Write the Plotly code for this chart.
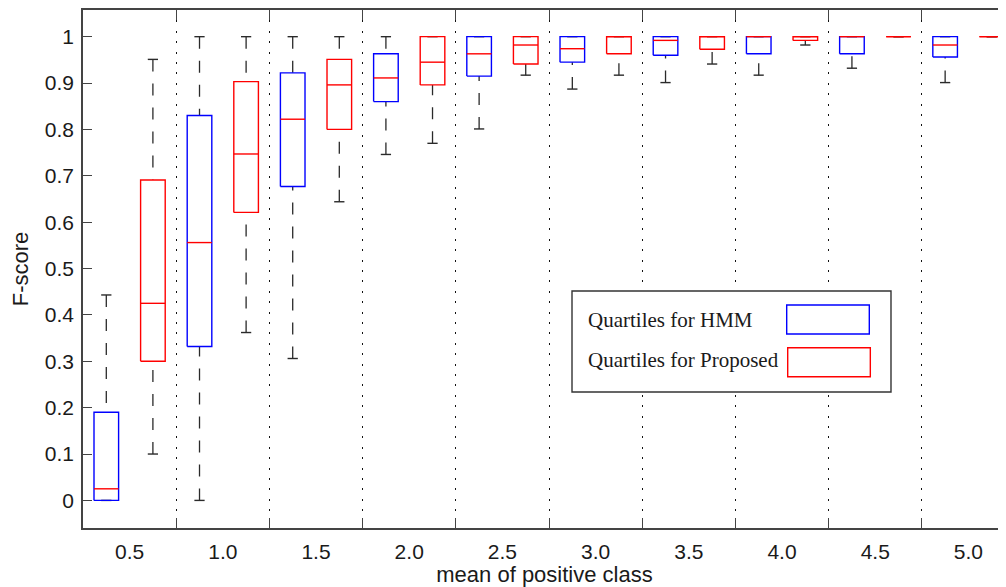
import plotly.graph_objects as go

# ---------------- data ----------------
categories = ["0.5", "1.0", "1.5", "2.0", "2.5", "3.0", "3.5", "4.0", "4.5", "5.0"]

hmm_low = [0.0, 0.0, 0.306, 0.746, 0.801, 0.887, 0.901, 0.917, 0.932, 0.901]
hmm_q1 = [0.0, 0.332, 0.677, 0.860, 0.915, 0.945, 0.960, 0.963, 0.963, 0.956]
hmm_med = [0.025, 0.556, 0.822, 0.911, 0.963, 0.974, 0.992, 1.0, 1.0, 0.982]
hmm_q3 = [0.190, 0.830, 0.922, 0.963, 1.0, 1.0, 1.0, 1.0, 1.0, 1.0]
hmm_high = [0.443, 1.0, 1.0, 1.0, 1.0, 1.0, 1.0, 1.0, 1.0, 1.0]

prop_low = [0.100, 0.362, 0.644, 0.770, 0.917, 0.917, 0.941, 0.982, 1.0, 1.0]
prop_q1 = [0.300, 0.621, 0.800, 0.896, 0.941, 0.963, 0.973, 0.992, 1.0, 1.0]
prop_med = [0.425, 0.747, 0.896, 0.945, 0.982, 1.0, 1.0, 1.0, 1.0, 1.0]
prop_q3 = [0.691, 0.903, 0.951, 1.0, 1.0, 1.0, 1.0, 1.0, 1.0, 1.0]
prop_high = [0.951, 1.0, 1.0, 1.0, 1.0, 1.0, 1.0, 1.0, 1.0, 1.0]

y_ticks = [0.0, 0.1, 0.2, 0.3, 0.4, 0.5, 0.6, 0.7, 0.8, 0.9, 1.0]
y_tick_text = ["0", "0.1", "0.2", "0.3", "0.4", "0.5", "0.6", "0.7", "0.8", "0.9", "1"]

legend_labels = ["Quartiles for HMM", "Quartiles for Proposed"]

# ---------------- style ----------------
BLUE = "rgb(0,0,255)"
RED = "rgb(255,0,0)"
WHISK = "#2a2a2a"
AXC = "#444444"
OFFSET = 0.25
HALF_W = 0.132
CAP_HALF = 0.055
SANS = "Liberation Sans, Arial, sans-serif"
SERIF = "Liberation Serif, DejaVu Serif, serif"
FS_TICK = 21
FS_TITLE = 22

centers = [i + 1 for i in range(len(categories))]
separators = [c + 0.5 for c in centers[:-1]]


def series_geometry(low, q1, med, q3, high, off):
    wx, wy, cx, cy, bx, by, mx, my = [], [], [], [], [], [], [], []
    for c, lo, a, m, b, hi in zip(centers, low, q1, med, q3, high):
        xc = c + off
        if hi > b:
            wx += [xc, xc, None]
            wy += [hi, b, None]
        if lo < a:
            wx += [xc, xc, None]
            wy += [lo, a, None]
        cx += [xc - CAP_HALF, xc + CAP_HALF, None, xc - CAP_HALF, xc + CAP_HALF, None]
        cy += [hi, hi, None, lo, lo, None]
        bx += [xc - HALF_W, xc + HALF_W, xc + HALF_W, xc - HALF_W, xc - HALF_W, None]
        by += [a, a, b, b, a, None]
        mx += [xc - HALF_W, xc + HALF_W, None]
        my += [m, m, None]
    return wx, wy, cx, cy, bx, by, mx, my


fig = go.Figure()

series = [
    (hmm_low, hmm_q1, hmm_med, hmm_q3, hmm_high, -OFFSET, BLUE, legend_labels[0]),
    (prop_low, prop_q1, prop_med, prop_q3, prop_high, OFFSET, RED, legend_labels[1]),
]

for low, q1, med, q3, high, off, col, name in series:
    wx, wy, cx, cy, bx, by, mx, my = series_geometry(low, q1, med, q3, high, off)
    fig.add_trace(go.Scatter(x=wx, y=wy, mode="lines", showlegend=False, hoverinfo="skip",
                             line=dict(color=WHISK, width=1.3, dash="12px,12px")))
    fig.add_trace(go.Scatter(x=cx, y=cy, mode="lines", showlegend=False, hoverinfo="skip",
                             line=dict(color=WHISK, width=1.4)))
    fig.add_trace(go.Scatter(x=bx, y=by, mode="lines", showlegend=False, name=name,
                             line=dict(color=col, width=1.4)))
    fig.add_trace(go.Scatter(x=mx, y=my, mode="lines", showlegend=False, hoverinfo="skip",
                             line=dict(color=RED, width=1.4)))

fig.add_trace(go.Scatter(x=[centers[0]], y=[0], xaxis="x2", yaxis="y2", mode="markers",
                         marker=dict(opacity=0), showlegend=False, hoverinfo="skip"))

# the page body has an 8px default margin, so the figure is 998x579
fig.update_layout(
    width=998, height=579,
    margin=dict(l=75, r=0, t=2, b=59, autoexpand=False),
    paper_bgcolor="white", plot_bgcolor="white",
    font=dict(family=SANS, size=FS_TICK, color="#1a1a1a"),
    xaxis=dict(
        range=[0.5, 10.403], tickvals=separators, showticklabels=False,
        ticks="inside", ticklen=10, tickwidth=1.3, tickcolor=AXC,
        showline=True, linecolor=AXC, linewidth=1.5, mirror="ticks",
        showgrid=True, gridcolor="#111111", gridwidth=1.2, griddash="2px,8.4px",
        zeroline=False, automargin=False,
    ),
    xaxis2=dict(
        overlaying="x", matches="x", anchor="y", side="bottom",
        tickvals=centers, ticktext=categories, ticks="", showline=False,
        showgrid=False, zeroline=False, ticklabelstandoff=9, automargin=False,
        tickfont=dict(family=SANS, size=FS_TICK, color="#1a1a1a"),
        title=dict(text="mean of positive class", standoff=3,
                   font=dict(family=SANS, size=FS_TITLE, color="#1a1a1a")),
    ),
    yaxis=dict(
        range=[-0.0595, 1.0575], tickvals=y_ticks, ticktext=y_tick_text,
        ticks="inside", ticklen=9, tickwidth=1.3, tickcolor=AXC,
        showline=True, linecolor=AXC, linewidth=1.5, mirror=False,
        showgrid=False, zeroline=False, ticklabelstandoff=3, automargin=False,
        tickfont=dict(family=SANS, size=FS_TICK, color="#1a1a1a"),
        title=dict(text="F-score", standoff=10,
                   font=dict(family=SANS, size=FS_TITLE, color="#1a1a1a")),
    ),
    yaxis2=dict(
        overlaying="y", matches="y", anchor="free", position=1, side="right",
        tickvals=y_ticks, showticklabels=False, ticks="inside", ticklen=3,
        tickwidth=1.3, tickcolor=AXC, showline=False, showgrid=False, zeroline=False,
        automargin=False,
    ),
)

# manual legend (boxed, serif text, rectangular swatches)
fig.add_shape(type="rect", xref="paper", yref="paper", x0=0.5298, x1=0.8754, y0=0.2625, y1=0.4575,
              fillcolor="white", line=dict(color="#333333", width=1.4), layer="above")
fig.add_shape(type="rect", xref="paper", yref="paper", x0=0.7624, x1=0.8519, y0=0.3745, y1=0.4305,
              fillcolor="white", line=dict(color=BLUE, width=1.4), layer="above")
fig.add_shape(type="rect", xref="paper", yref="paper", x0=0.7635, x1=0.8530, y0=0.2921, y1=0.3481,
              fillcolor="white", line=dict(color=RED, width=1.4), layer="above")
for label, yy in zip(legend_labels, [0.4015, 0.3243]):
    fig.add_annotation(text=label, xref="paper", yref="paper", x=0.545, y=yy,
                       xanchor="left", yanchor="middle", showarrow=False,
                       font=dict(family=SERIF, size=21, color="#1a1a1a"))

fig.write_html("out.html")
